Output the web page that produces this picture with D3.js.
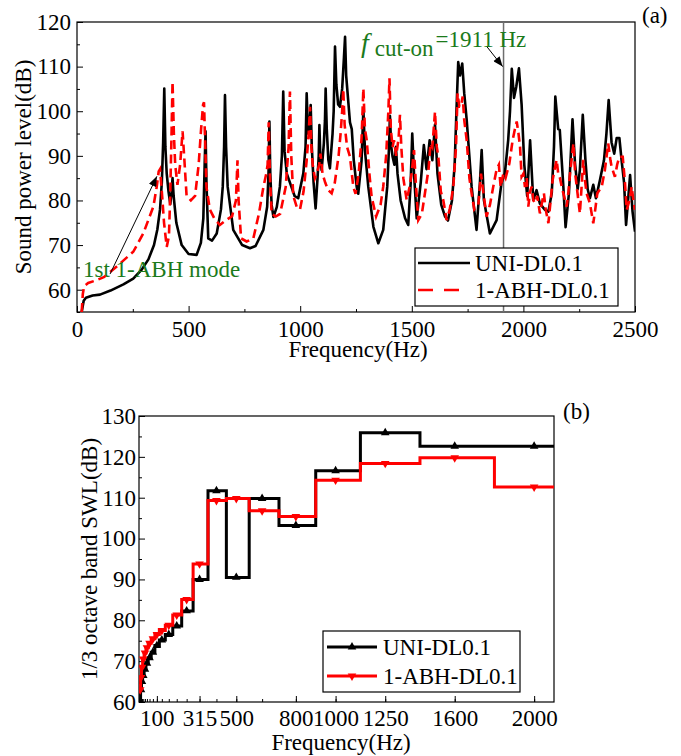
<!DOCTYPE html>
<html>
<head>
<meta charset="utf-8">
<script src="https://cdn.jsdelivr.net/npm/d3@7"></script>
<style>
body { margin: 0; background: #fff; }
text { font-family: "Liberation Serif", "Times New Roman", serif; }
</style>
</head>
<body>
<svg id="chart" width="681" height="756"></svg>
<script>
// ** Data, panel (a): sound power level spectrum, [frequency Hz, dB] **
var uniSpectrum = [
	[21,55],[30,57.5],[40,58.2],[70,58.7],[103,58.9],[150,59.8],[208,61.2],[252,62.5],[290,64.5],[320,66.8],
	[345,70],[360,73.5],[372,78],[380,84],[386,93],[391,105.1],[396,92],[402,86],[410,82],[418,79.2],
	[424,82],[428,85],[433,81],[445,75],[469,70],[500,68],[536,67.8],[555,70.5],[566,76],[572,88],
	[576,95.5],[580,84],[588,71.5],[605,71],[626,72.6],[645,78],[653,83.1],[659,92],[663,103.6],[668,92],
	[675,83.1],[700,73.4],[740,70],[775,69.3],[800,69.8],[835,73.4],[852,78.6],[858,86],[862,97.7],[866,86],
	[872,79],[880,76.3],[895,78.5],[909,83.1],[918,90],[924,104.4],[930,91],[940,86],[954,84],[975,81],
	[991,80.5],[1014,86.1],[1024,92],[1029,104],[1035,95],[1041,96],[1047,101.4],[1052,92],[1060,84],[1069,78.2],
	[1078,85.3],[1083,90],[1086,96.9],[1090,90],[1096,86.8],[1106,92.8],[1111,98],[1114,105.1],[1119,96],[1126,89.1],
	[1133,87.2],[1145,95],[1150,100],[1156,114.5],[1162,106],[1170,101.5],[1178,101],[1188,105],[1196,112],[1201,116.7],
	[1206,108],[1216,101.8],[1223,97.5],[1231,96],[1240,89],[1253,83.1],[1260,81.5],[1275,89],[1283,100.3],[1290,91.3],
	[1305,83.1],[1328,74.1],[1350,70.4],[1372,73.4],[1390,83.1],[1398,92],[1402,99],[1408,92],[1414,89.8],[1422,88],
	[1429,92],[1436,86],[1450,80],[1470,76],[1484,74.5],[1495,84],[1502,95],[1510,86],[1522,76],[1540,84],
	[1554,92.4],[1566,87],[1580,93.5],[1592,89],[1604,97],[1615,86],[1632,79],[1649,76.4],[1662,75.5],[1680,80],
	[1692,88],[1700,100],[1708,111],[1716,108],[1726,110.7],[1735,104],[1746,98],[1768,83.1],[1790,73.4],[1805,83.8],
	[1813,91.3],[1823,80.1],[1850,72.6],[1880,75.6],[1902,84],[1917,86.1],[1932,93.6],[1940,100],[1948,109.5],[1958,103],
	[1968,105.5],[1980,109.6],[1992,101.5],[2004,88],[2017,81],[2030,93.5],[2044,80.1],[2059,82.3],[2074,79.3],[2097,77.9],
	[2112,77.5],[2127,81.6],[2137,92],[2143,103.3],[2156,96],[2163,95.8],[2179,83.1],[2189,74],[2204,81.6],[2220,98.2],
	[2231,88.5],[2243,82.5],[2253,86.8],[2266,99.2],[2278,89],[2288,82.5],[2298,80.5],[2313,83.5],[2325,80.5],[2343,84.6],
	[2361,89],[2372,95],[2382,102.5],[2395,93],[2407,90.5],[2418,94],[2430,94],[2440,89],[2451,84],[2460,74.5],
	[2478,85.7],[2489,77.5],[2500,73]
];

var abhSpectrum = [
	[21,55],[26,59],[32,60.8],[50,61.5],[80,62],[120,62.8],[178,65.2],[252,68.5],[297,72.6],[342,78.6],
	[357,83],[366,86.5],[372,87],[380,82],[390,75],[402,69.6],[412,72],[418,82],[424,96],[428,106.6],
	[434,95],[440,88],[450,83.5],[462,88],[473,95.5],[480,90],[491,81],[510,80],[529,81],[545,88],
	[556,96],[565,101.5],[569,102],[573,95],[580,83],[595,78],[615,76],[640,74.5],[665,75.5],[695,76.5],
	[712,80],[719,89],[724,80],[735,71.5],[760,70.8],[790,71.5],[815,77],[835,83],[848,86],[854,88],
	[859,97.5],[864,86],[872,77],[890,76.4],[910,77],[935,83],[948,92],[954,104.4],[960,90],[969,81],
	[985,78.5],[999,78],[1015,82],[1029,89],[1038,95],[1044,101],[1050,92],[1056,88],[1066,85],[1074,86],
	[1085,88],[1091,90.5],[1100,86],[1112,84],[1126,82.3],[1141,81.6],[1155,84],[1163,86.8],[1172,90],[1181,95],
	[1188,100],[1193,105],[1199,97],[1210,92],[1223,89.8],[1238,83],[1248,81.5],[1262,86],[1275,94],[1283,105.1],
	[1290,96],[1298,93.5],[1310,86],[1320,80.8],[1340,76.4],[1360,79],[1372,83.1],[1385,90],[1395,100],[1400,107.4],
	[1406,96],[1414,92],[1420,93.5],[1430,90],[1441,94],[1447,99.2],[1453,92],[1462,85],[1477,80.1],[1490,83],
	[1499,86],[1510,91.3],[1518,84],[1529,75.6],[1545,77],[1560,82],[1575,87],[1584,92.8],[1592,92],[1604,99.9],
	[1612,92],[1619,89.8],[1630,82],[1641,80.1],[1656,75.6],[1670,78],[1686,83.1],[1698,92],[1705,104],[1713,101],
	[1720,101],[1728,103.3],[1735,98],[1746,93.5],[1758,85],[1768,81.6],[1780,78],[1798,79],[1810,86],[1820,82],
	[1835,76.4],[1850,79],[1865,83.1],[1880,87],[1890,88],[1898,83],[1910,86],[1920,85],[1937,88.3],[1952,93.6],
	[1962,96],[1970,97.7],[1978,95],[1985,92],[1992,85.3],[2000,86],[2007,83],[2015,85],[2022,78.6],[2030,82],
	[2037,83.1],[2045,80],[2052,79.4],[2062,81],[2074,77.1],[2085,80],[2092,81.6],[2100,78],[2112,74.9],[2122,80],
	[2131,84.6],[2140,87],[2149,89.1],[2156,86],[2164,85],[2172,83],[2179,81.6],[2194,78.6],[2202,82],[2209,86.1],
	[2218,90],[2224,92.8],[2232,86],[2239,83.1],[2253,77.1],[2262,84],[2268,89.1],[2275,85],[2283,81.6],[2298,79.4],
	[2313,74.9],[2322,78],[2331,81.6],[2351,83.1],[2365,86.8],[2380,92.8],[2390,89],[2395,87.6],[2410,85.3],[2420,88],
	[2430,89.8],[2445,89.8],[2455,84],[2463,77.9],[2475,80],[2485,83.1],[2493,80],[2500,77.9]
];

var cutOnFrequency = 1911;
var ticksA = [0, 500, 1000, 1500, 2000, 2500];
var ticksLevelA = [60, 70, 80, 90, 100, 110, 120];

// ** Data, panel (b): 1/3 octave band levels **
var bandCenters = [16, 20, 25, 31.5, 40, 50, 63, 80, 100, 125, 160, 200, 250, 315, 400, 500, 630, 800, 1000, 1250, 1600, 2000];
var uniBand = [60, 63, 65, 66.5, 68, 69.5, 70.8, 72.2, 73.8, 75.2, 76.5, 78.6, 82.3, 90, 111.7, 90.5, 109.8, 103.2, 116.6, 125.9, 122.6, 122.6];
var abhBand = [63, 66, 68.5, 70.5, 72, 73.3, 74.4, 75.5, 76.5, 77.5, 78.8, 81.3, 85.1, 93.8, 109.3, 109.8, 106.8, 105.4, 114.3, 118.4, 119.8, 112.6];
var bandTickLabels = [100, 315, 500, 800, 1000, 1250, 1600, 2000];
var ticksLevelB = [60, 70, 80, 90, 100, 110, 120, 130];

var seriesNames = ["UNI-DL0.1", "1-ABH-DL0.1"];

// ** Styling **
var fontSize = 23;
var serif = "Liberation Serif, Times New Roman, serif";
var green = "#1b7a1b";
var red = "#ff0000";

var svg = d3.select("#chart");

// arrowhead
svg.append("defs").append("marker")
	.attr("id", "arrow")
	.attr("viewBox", "0 0 10 8")
	.attr("refX", 10)
	.attr("refY", 4)
	.attr("markerWidth", 11)
	.attr("markerHeight", 8)
	.attr("markerUnits", "userSpaceOnUse")
	.attr("orient", "auto")
	.append("path")
	.attr("d", "M0,0 L10,4 L0,8 Z")
	.attr("fill", "#000");

function styleAxis(ax){
	ax.select(".domain").remove();
	ax.selectAll("text")
		.attr("font-size", fontSize)
		.attr("font-family", serif)
		.attr("fill", "#000");
}

// ======================= Panel (a) =======================
var a = { left: 77, top: 22, right: 635, bottom: 312 };

var xA = d3.scaleLinear().domain([0, 2500]).range([a.left, a.right]);
var yA = d3.scaleLinear().domain([55, 120]).range([a.bottom, a.top]);

svg.append("clipPath").attr("id", "clipA")
	.append("rect")
	.attr("x", a.left).attr("y", a.top)
	.attr("width", a.right - a.left).attr("height", a.bottom - a.top);

// minor ticks
svg.append("g")
	.attr("transform", "translate(0," + a.bottom + ")")
	.call(d3.axisBottom(xA).tickValues(d3.range(250, 2500, 500)).tickSize(-3).tickFormat(""))
	.call(styleAxis);
svg.append("g")
	.attr("transform", "translate(" + a.left + ",0)")
	.call(d3.axisLeft(yA).tickValues(d3.range(55, 120, 10)).tickSize(-3).tickFormat(""))
	.call(styleAxis);

// major ticks with labels
svg.append("g")
	.attr("transform", "translate(0," + a.bottom + ")")
	.call(d3.axisBottom(xA).tickValues(ticksA).tickSize(-6).tickPadding(9).tickFormat(d3.format("d")))
	.call(styleAxis);
svg.append("g")
	.attr("transform", "translate(" + a.left + ",0)")
	.call(d3.axisLeft(yA).tickValues(ticksLevelA).tickSize(-6).tickPadding(6))
	.call(styleAxis);

// frame
svg.append("rect")
	.attr("x", a.left).attr("y", a.top)
	.attr("width", a.right - a.left).attr("height", a.bottom - a.top)
	.attr("fill", "none").attr("stroke", "#000").attr("stroke-width", 1.2);

// cut-on line
svg.append("line")
	.attr("x1", xA(cutOnFrequency)).attr("x2", xA(cutOnFrequency))
	.attr("y1", a.top).attr("y2", a.bottom)
	.attr("stroke", "#6e6e6e").attr("stroke-width", 1.5);

var lineA = d3.line()
	.x(function(d){ return xA(d[0]); })
	.y(function(d){ return yA(d[1]); });

var plotA = svg.append("g").attr("clip-path", "url(#clipA)");

plotA.append("path")
	.datum(uniSpectrum)
	.attr("d", lineA)
	.attr("fill", "none")
	.attr("stroke", "#000")
	.attr("stroke-width", 2.6)
	.attr("stroke-linejoin", "round");

plotA.append("path")
	.datum(abhSpectrum)
	.attr("d", lineA)
	.attr("fill", "none")
	.attr("stroke", red)
	.attr("stroke-width", 2.6)
	.attr("stroke-dasharray", "9,5");

// axis titles
svg.append("text")
	.attr("x", 358)
	.attr("y", 357)
	.attr("text-anchor", "middle")
	.attr("font-size", fontSize)
	.text("Frequency(Hz)");
svg.append("text")
	.attr("transform", "translate(31," + ((a.top + a.bottom) / 2) + ") rotate(-90)")
	.attr("text-anchor", "middle")
	.attr("font-size", fontSize)
	.text("Sound power level(dB)");
svg.append("text")
	.attr("x", 642).attr("y", 23)
	.attr("font-size", fontSize)
	.text("(a)");

// annotations
svg.append("line")
	.attr("x1", xA(148)).attr("y1", yA(63.5))
	.attr("x2", xA(358)).attr("y2", yA(85.4))
	.attr("stroke", "#000").attr("stroke-width", 1)
	.attr("marker-end", "url(#arrow)");
svg.append("text")
	.attr("x", 83).attr("y", 277)
	.attr("font-size", fontSize)
	.attr("fill", green)
	.text("1st 1-ABH mode");

svg.append("line")
	.attr("x1", xA(1836)).attr("y1", yA(114.5))
	.attr("x2", xA(1907)).attr("y2", yA(110))
	.attr("stroke", "#000").attr("stroke-width", 1)
	.attr("marker-end", "url(#arrow)");
var cutLabel = svg.append("text")
	.attr("x", 361).attr("y", 52)
	.attr("fill", green)
	.attr("font-size", fontSize);
cutLabel.append("tspan")
	.attr("font-style", "italic")
	.attr("font-size", 28)
	.text("f");
cutLabel.append("tspan")
	.attr("dx", 6).attr("dy", 4)
	.text("cut-on");
cutLabel.append("tspan")
	.attr("dx", 2).attr("dy", -9)
	.text("=1911 Hz");

// legend (a)
var legA = svg.append("g");
legA.append("rect")
	.attr("x", 415).attr("y", 248)
	.attr("width", 203).attr("height", 58)
	.attr("fill", "#fff").attr("stroke", "#000").attr("stroke-width", 1.2);
[0, 1].forEach(function(i){
	var ly = 263 + i * 27;
	legA.append("line")
		.attr("x1", 418).attr("x2", 470)
		.attr("y1", ly).attr("y2", ly)
		.attr("stroke", i ? red : "#000")
		.attr("stroke-width", 2.6)
		.attr("stroke-dasharray", i ? "15,11" : null);
	legA.append("text")
		.attr("x", 475).attr("y", ly + 8)
		.attr("font-size", fontSize)
		.text(seriesNames[i]);
});

// ======================= Panel (b) =======================
var b = { left: 139, top: 416, right: 554, bottom: 702 };

var xB = d3.scaleLinear().domain([10, 2100]).range([b.left, b.right]);
var yB = d3.scaleLinear().domain([60, 130]).range([b.bottom, b.top]);

svg.append("clipPath").attr("id", "clipB")
	.append("rect")
	.attr("x", b.left).attr("y", b.top)
	.attr("width", b.right - b.left).attr("height", b.bottom - b.top);

// minor ticks on every band centre
svg.append("g")
	.attr("transform", "translate(0," + b.bottom + ")")
	.call(d3.axisBottom(xB).tickValues(bandCenters.filter(function(f){ return f >= 20; })).tickSize(-3).tickFormat(""))
	.call(styleAxis);
svg.append("g")
	.attr("transform", "translate(" + b.left + ",0)")
	.call(d3.axisLeft(yB).tickValues(d3.range(65, 130, 10)).tickSize(-3).tickFormat(""))
	.call(styleAxis);

svg.append("g")
	.attr("transform", "translate(0," + b.bottom + ")")
	.call(d3.axisBottom(xB).tickValues(bandTickLabels).tickSize(-6).tickPadding(8).tickFormat(d3.format("d")))
	.call(styleAxis);
svg.append("g")
	.attr("transform", "translate(" + b.left + ",0)")
	.call(d3.axisLeft(yB).tickValues(ticksLevelB).tickSize(-6).tickPadding(3))
	.call(styleAxis);

svg.append("rect")
	.attr("x", b.left).attr("y", b.top)
	.attr("width", b.right - b.left).attr("height", b.bottom - b.top)
	.attr("fill", "none").attr("stroke", "#000").attr("stroke-width", 1.2);

// step outline: each band is flat between the midpoints to its neighbours
function bandSteps(values){
	var pts = [];
	values.forEach(function(v, i){
		var lo = i === 0 ? bandCenters[0] : (bandCenters[i - 1] + bandCenters[i]) / 2;
		var hi = i === values.length - 1 ? xB.domain()[1] : (bandCenters[i] + bandCenters[i + 1]) / 2;
		pts.push([lo, v], [hi, v]);
	});
	return pts;
}

var lineB = d3.line()
	.x(function(d){ return xB(d[0]); })
	.y(function(d){ return yB(d[1]); });

var plotB = svg.append("g").attr("clip-path", "url(#clipB)");

var bandSeries = [
	{ values: uniBand, color: "#000", rotate: 0 },
	{ values: abhBand, color: red, rotate: 180 }
];
var tri = d3.symbol().type(d3.symbolTriangle).size(32);

bandSeries.forEach(function(s){
	plotB.append("path")
		.datum(bandSteps(s.values))
		.attr("d", lineB)
		.attr("fill", "none")
		.attr("stroke", s.color)
		.attr("stroke-width", 3)
		.attr("stroke-linejoin", "miter");
	plotB.selectAll(null)
		.data(s.values)
		.enter()
		.append("path")
		.attr("d", tri)
		.attr("fill", s.color)
		.attr("transform", function(d, i){
			return "translate(" + xB(bandCenters[i]) + "," + yB(d) + ") rotate(" + s.rotate + ")";
		});
});

svg.append("text")
	.attr("x", 341).attr("y", 750)
	.attr("text-anchor", "middle")
	.attr("font-size", fontSize)
	.text("Frequency(Hz)");
svg.append("text")
	.attr("transform", "translate(97," + ((b.top + b.bottom) / 2) + ") rotate(-90)")
	.attr("text-anchor", "middle")
	.attr("font-size", fontSize)
	.text("1/3 octave band SWL(dB)");
svg.append("text")
	.attr("x", 563).attr("y", 419)
	.attr("font-size", fontSize)
	.text("(b)");

// legend (b)
var legB = svg.append("g");
legB.append("rect")
	.attr("x", 323).attr("y", 631)
	.attr("width", 197).attr("height", 61)
	.attr("fill", "#fff").attr("stroke", "#000").attr("stroke-width", 1.2);
bandSeries.forEach(function(s, i){
	var ly = 647 + i * 29;
	legB.append("line")
		.attr("x1", 327).attr("x2", 377)
		.attr("y1", ly).attr("y2", ly)
		.attr("stroke", s.color)
		.attr("stroke-width", 3);
	legB.append("path")
		.attr("d", tri)
		.attr("fill", s.color)
		.attr("transform", "translate(352," + ly + ") rotate(" + s.rotate + ")");
	legB.append("text")
		.attr("x", 383).attr("y", ly + 8)
		.attr("font-size", fontSize)
		.text(seriesNames[i]);
});
</script>
</body>
</html>
